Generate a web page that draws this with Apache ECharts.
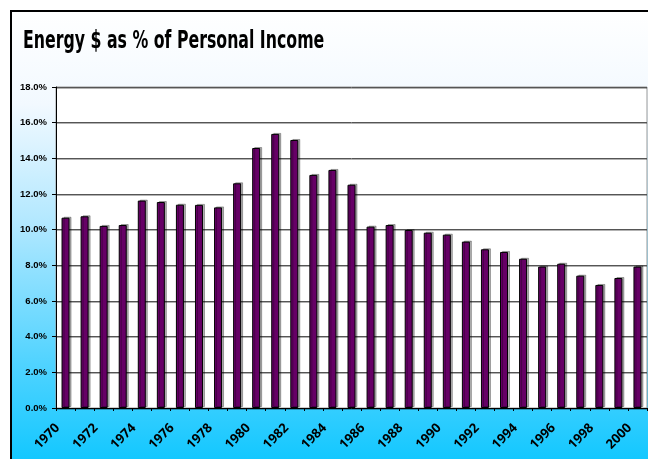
<!DOCTYPE html>
<html>
<head>
<meta charset="utf-8">
<script src="https://cdn.jsdelivr.net/npm/echarts@6/dist/echarts.min.js"></script>
<style>html,body{margin:0;padding:0;background:#fff;}#c{width:648px;height:459px;}</style>
</head>
<body>
<div id="c"></div>
<script>
const titleText = "Energy $ as % of Personal Income";
const years = ["1970","1971","1972","1973","1974","1975","1976","1977","1978","1979","1980","1981","1982","1983","1984","1985","1986","1987","1988","1989","1990","1991","1992","1993","1994","1995","1996","1997","1998","1999","2000"];
const energyPct = [10.67,10.75,10.21,10.26,11.63,11.55,11.40,11.39,11.25,12.60,14.58,15.37,15.03,13.07,13.35,12.52,10.17,10.26,9.98,9.83,9.72,9.33,8.90,8.75,8.37,7.93,8.09,7.42,6.90,7.29,7.93];
const yMin = 0, yMax = 18, yStep = 2;

const chart = echarts.init(document.getElementById('c'), null, {renderer:'canvas'});
chart.setOption({
  animation:false,
  graphic:[{
    type:'rect', z:-100, silent:true,
    shape:{x:11,y:11,width:680,height:470},
    style:{
      fill:new echarts.graphic.LinearGradient(0,0,0,1,[
        {offset:0,color:'#ffffff'},
        {offset:0.2,color:'#f2f9ff'},
        {offset:0.45,color:'#b2e8ff'},
        {offset:0.75,color:'#50d3ff'},
        {offset:1,color:'#05c5ff'}
      ]),
      stroke:'#000', lineWidth:2
    }
  },{
    type:'text', z:10, silent:true,
    x:23, y:30, scaleX:0.73,
    style:{text:titleText,font:'bold 24px "Liberation Sans Narrow","DejaVu Sans Condensed",sans-serif',fill:'#000',textVerticalAlign:'top',verticalAlign:'top'}
  }],
  grid:{left:56,top:87,right:1,bottom:51,show:true,backgroundColor:'#fff',borderColor:'#999',borderWidth:1},
  xAxis:{
    type:'category', data:years, boundaryGap:true,
    axisLine:{lineStyle:{color:'#000',width:1}},
    axisTick:{show:true,length:3,interval:0,lineStyle:{color:'#000'}},
    axisLabel:{interval:1,rotate:45,fontSize:13,fontWeight:'bold',color:'#000',fontFamily:'"Open Sans",sans-serif',margin:10,padding:[0,11,0,0]}
  },
  yAxis:{
    type:'value', min:yMin, max:yMax, interval:yStep,
    axisLine:{show:true,lineStyle:{color:'#000'}},
    axisTick:{show:true,length:4,lineStyle:{color:'#000'}},
    axisLabel:{formatter:v=>v.toFixed(1)+'%',fontSize:9.5,fontWeight:'bold',color:'#000',fontFamily:'"Liberation Sans",sans-serif',margin:9},
    splitLine:{show:true,lineStyle:{color:'#555',width:1,shadowColor:'rgba(0,0,0,0.3)',shadowOffsetY:1,shadowBlur:0}}
  },
  series:[{
    type:'bar', data:energyPct, barWidth:8,
    itemStyle:{color:'#660066',borderColor:'#000',borderWidth:1,shadowColor:'rgba(0,0,0,0.3)',shadowOffsetX:2,shadowOffsetY:-1,shadowBlur:0}
  }]
});
</script>
</body>
</html>
